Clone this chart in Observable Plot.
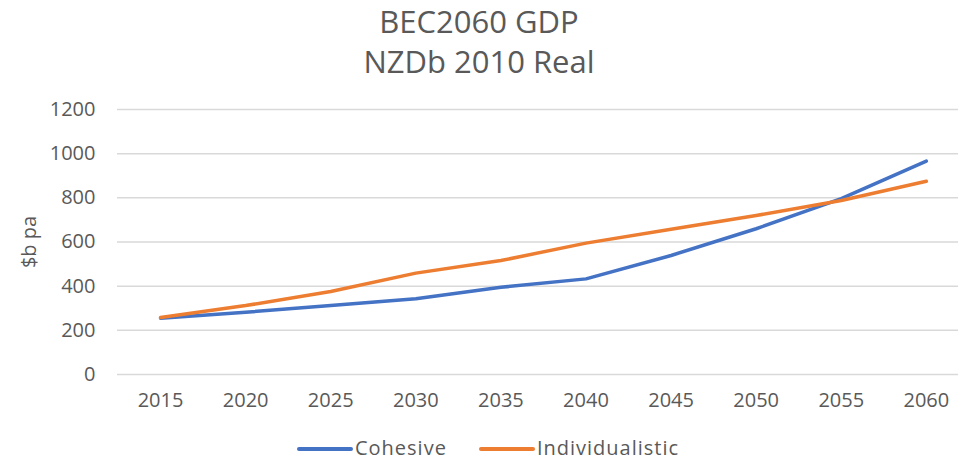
<!DOCTYPE html>
<html>
<head>
<meta charset="utf-8">
<script src="https://cdn.jsdelivr.net/npm/d3@7"></script>
<script src="https://cdn.jsdelivr.net/npm/@observablehq/plot@0.6"></script>
<style>
  body { margin: 0; background: #fff; font-family: "Open Sans", sans-serif; }
  #wrap { width: 958px; height: 460px; position: relative; overflow: hidden; }
  #title { text-align: center; color: #595959; font-size: 31px; line-height: 40px; height: 80px; padding-top: 1px; box-sizing: border-box; }
  #legend { display: flex; justify-content: center; align-items: center; gap: 32px; color: #595959; font-size: 20px; letter-spacing: 1px; height: 35px; padding-left: 18px; padding-top: 9px; box-sizing: border-box; }
  .sw { display: inline-block; width: 56px; height: 0; border-top: 4px solid; vertical-align: middle; margin-right: 2px; border-radius: 2px; }
</style>
</head>
<body>
<div id="wrap">
  <div id="title"><div>BEC2060 GDP</div><div>NZDb 2010 Real</div></div>
  <div id="chart"></div>
  <div id="legend"></div>
</div>
<script>
const years = [2015, 2020, 2025, 2030, 2035, 2040, 2045, 2050, 2055, 2060];
const cohesive = [255, 282, 312, 343, 395, 433, 539, 660, 796, 966];
const individualistic = [258, 312, 376, 459, 516, 595, 658, 720, 788, 875];
const seriesNames = ["Cohesive", "Individualistic"];
const seriesColors = ["#4472C4", "#ED7D31"];
const yTicks = [0, 200, 400, 600, 800, 1000, 1200];

const data = [];
years.forEach((y, i) => {
  data.push({year: y, value: cohesive[i], series: seriesNames[0]});
  data.push({year: y, value: individualistic[i], series: seriesNames[1]});
});

const chart = Plot.plot({
  width: 958,
  height: 345,
  marginLeft: 117,
  marginRight: 0,
  marginTop: 29,
  marginBottom: 51,
  style: { fontFamily: "Open Sans, sans-serif", fontSize: "20px", color: "#595959", background: "#fff" },
  x: { domain: [2012.47, 2061.89], label: null },
  y: { domain: [0, 1200], label: null },
  color: { domain: seriesNames, range: seriesColors },
  marks: [
    Plot.ruleY(yTicks, { stroke: "#d9d9d9", strokeWidth: 1.5 }),
    Plot.axisX({ ticks: years, tickFormat: "d", tickSize: 0, tickPadding: 18, label: null, fontSize: 20, fill: "#595959" }),
    Plot.axisY({ ticks: yTicks, tickFormat: "d", tickSize: 0, tickPadding: 22, label: "$b pa", labelAnchor: "center", labelArrow: "none", labelOffset: 96, fontSize: 20, fill: "#595959" }),
    Plot.line(data, { x: "year", y: "value", z: "series", stroke: "series", strokeWidth: 3.5, strokeLinecap: "round", strokeLinejoin: "round" })
  ]
});
document.getElementById("chart").appendChild(chart);

const legend = document.getElementById("legend");
seriesNames.forEach((name, i) => {
  const item = document.createElement("span");
  item.innerHTML = `<span class="sw" style="border-color:${seriesColors[i]}"></span>${name}`;
  legend.appendChild(item);
});
</script>
</body>
</html>
